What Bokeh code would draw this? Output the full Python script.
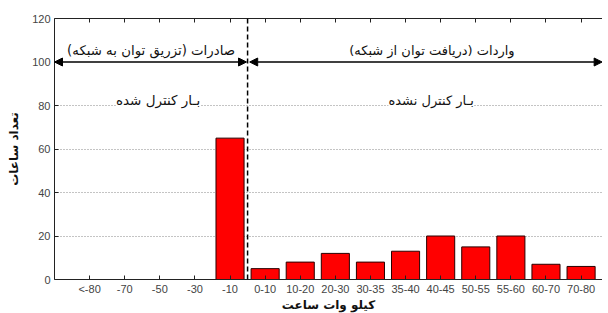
from bokeh.plotting import figure
from bokeh.models import Range1d, FixedTicker, LinearAxis, Label, Arrow, NormalHead, Span, ColumnDataSource
from bokeh.embed import file_html
from bokeh.resources import INLINE

categories = ["<-80", "-70", "-50", "-30", "-10", "0-10", "10-20", "20-30", "30-35",
              "35-40", "40-45", "50-55", "55-60", "60-70", "70-80"]
hours = [0, 0, 0, 0, 65, 5, 8, 12, 8, 13, 20, 15, 20, 7, 6]
y_ticks = [0, 20, 40, 60, 80, 100, 120]
grid_ticks = [20, 40, 60, 80]
export_label = "\u200fصادرات (تزریق توان به شبکه)\u200f"
import_label = "\u200fواردات (دریافت توان از شبکه)\u200f"
controlled_label = "بـار کنترل شده"
uncontrolled_label = "بـار کنترل نشده"
y_title = "تعداد ساعات"
x_title = "کیلو وات ساعت"
arrow_level = 100
region_label_level = 82.5

positions = [i + 1 for i in range(len(categories))]
split = categories.index("-10") + 1.5
x_end = 15.61

src = ColumnDataSource(dict(x=positions, top=hours, cat=categories))

p = figure(width=602, height=314, output_backend="svg", toolbar_location=None,
           x_range=Range1d(0, x_end), y_range=Range1d(0, 120),
           min_border_left=54, min_border_right=0, min_border_top=18, min_border_bottom=33)
p.outline_line_color = None
p.background_fill_color = "white"

p.vbar(x="x", top="top", width=0.8, source=src, fill_color="#FF0000", line_color="#2a0000", line_width=1)

ARABIC_FONT = "DejaVu Sans"
TICK_FONT = "Liberation Sans"

xa = p.xaxis[0]
xa.ticker = FixedTicker(ticks=positions)
xa.major_label_overrides = {pos: c for pos, c in zip(positions, categories)}
ya = p.yaxis[0]
ya.ticker = FixedTicker(ticks=y_ticks)

for ax in (xa, ya):
    ax.major_tick_in = 4
    ax.major_tick_out = 0
    ax.minor_tick_in = 0
    ax.minor_tick_out = 0
    ax.axis_line_color = "#222222"
    ax.major_tick_line_color = "#222222"
    ax.major_label_text_font = TICK_FONT
    ax.major_label_text_font_size = "11px"
    ax.major_label_text_color = "#444444"
    ax.axis_label_text_font = ARABIC_FONT
    ax.axis_label_text_font_size = "12px"
    ax.axis_label_text_font_style = "bold"
    ax.axis_label_text_color = "#111111"
xa.major_label_standoff = 3
ya.major_label_standoff = 4
ya.axis_label = y_title
ya.axis_label_standoff = 8
xa.axis_label = x_title
xa.axis_label_standoff = 0

top_axis = LinearAxis(ticker=FixedTicker(ticks=positions), major_tick_in=4, major_tick_out=0,
                      minor_tick_in=0, minor_tick_out=0, major_label_standoff=0,
                      axis_line_color="#222222", major_tick_line_color="#222222")
top_axis.major_label_overrides = {pos: "" for pos in positions}
p.add_layout(top_axis, "above")

p.xgrid.grid_line_color = None
p.ygrid.ticker = FixedTicker(ticks=grid_ticks)
p.ygrid.grid_line_color = "#888888"
p.ygrid.grid_line_dash = "1 2"

p.add_layout(Span(location=split, dimension="height", line_color="black",
                  line_dash="5 3", line_width=1.5))

head = dict(size=8, fill_color="black", line_color="black")
p.add_layout(Arrow(start=NormalHead(**head), end=NormalHead(**head),
                   x_start=0, y_start=arrow_level, x_end=split - 0.03, y_end=arrow_level,
                   line_width=1.5, line_color="black"))
p.add_layout(Arrow(start=NormalHead(**head), end=NormalHead(**head),
                   x_start=split + 0.06, y_start=arrow_level, x_end=x_end - 0.01, y_end=arrow_level,
                   line_width=1.5, line_color="black"))

label_kw = dict(text_font=ARABIC_FONT, text_color="#111111", text_align="center")
p.add_layout(Label(x=split / 2, y=arrow_level + 2, text=export_label,
                   text_baseline="bottom", text_font_size="13.3px", **label_kw))
p.add_layout(Label(x=(split + 16) / 2, y=arrow_level + 2, text=import_label,
                   text_baseline="bottom", text_font_size="13px", **label_kw))
p.add_layout(Label(x=2.95, y=region_label_level, text=controlled_label, text_baseline="middle",
                   background_fill_color="white", text_font_size="13.5px", **label_kw))
p.add_layout(Label(x=10.73, y=region_label_level, text=uncontrolled_label, text_baseline="middle",
                   background_fill_color="white", text_font_size="13px", **label_kw))

open("out.html", "w").write(file_html(p, INLINE))
